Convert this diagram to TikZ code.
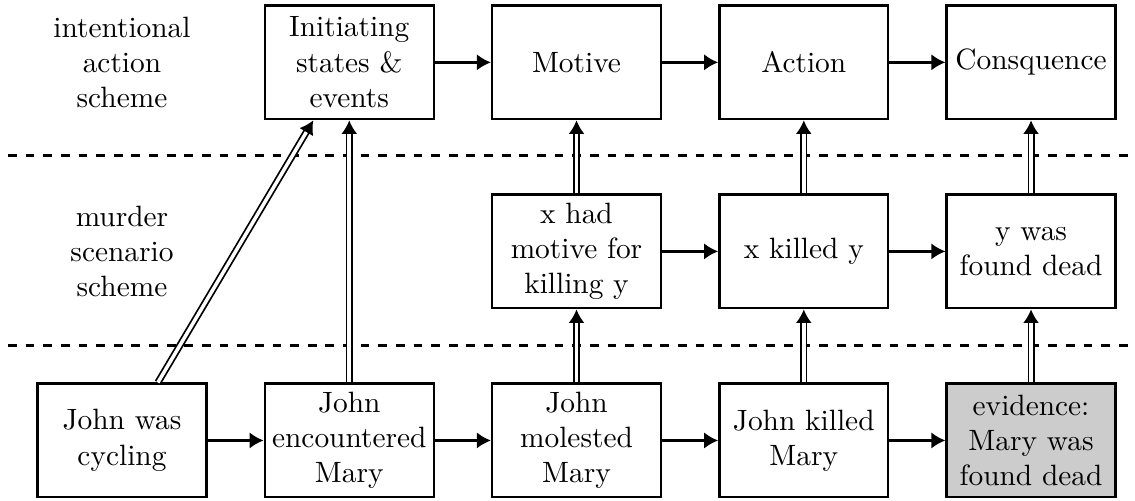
\documentclass[tikz,border=0pt]{standalone}
\usetikzlibrary{positioning, arrows.meta}

\begin{document}
\begin{tikzpicture}[
  node distance=8.73mm and 6.7mm,
  box/.style={rectangle, draw, thick, minimum width=2.02cm, minimum height=1.36cm, align=center, inner sep=2pt},
  schemetext/.style={align=center},
  seq/.style={thick, -{Latex[length=4.8pt, width=5.6pt]}},
  inst/.style={semithick, double, double distance=1.2pt, -{Latex[length=4.6pt, width=5.4pt]}},
  sep/.style={thick, dashed}
  ]
  \useasboundingbox (0,0) rectangle (13.575,-5.992);

  % bottom row: the story
  \node[box] (cycling) at (1.459,-5.268) {John was\\cycling};
  \node[box, right=of cycling] (encountered) {John\\encountered\\Mary};
  \node[box, right=of encountered] (molested) {John\\molested\\Mary};
  \node[box, right=of molested] (killed) {John killed\\Mary};
  \node[box, right=of killed, fill=black!20] (evidence) {evidence:\\Mary was\\found dead};

  % middle row: murder scenario scheme
  \node[box, above=of molested] (hadmotive) {x had\\motive for\\killing y};
  \node[box, above=of killed] (xkilled) {x killed y};
  \node[box, above=of evidence] (founddead) {y was\\found dead};

  % top row: intentional action scheme
  \node[box, above=of hadmotive] (motive) {Motive};
  \node[box, above=of xkilled] (action) {Action};
  \node[box, above=of founddead] (consq) {Consquence};
  \node[box] (initiating) at (encountered |- motive) {Initiating\\states \&\\events};

  \node[schemetext] (intentlbl) at (cycling |- motive) {intentional\\action\\scheme};
  \node[schemetext] (murderlbl) at (cycling |- hadmotive) {murder\\scenario\\scheme};

  \coordinate (upleft) at (0.096,-1.86);
  \coordinate (upright) at (13.575,-1.86);
  \coordinate (lowleft) at (0.096,-4.132);
  \coordinate (lowright) at (13.575,-4.132);
  \draw[sep] (upleft) -- (upright);
  \draw[sep] (lowleft) -- (lowright);

  \draw[seq] (initiating) -- (motive);
  \draw[seq] (motive) -- (action);
  \draw[seq] (action) -- (consq);
  \draw[seq] (hadmotive) -- (xkilled);
  \draw[seq] (xkilled) -- (founddead);
  \draw[seq] (cycling) -- (encountered);
  \draw[seq] (encountered) -- (molested);
  \draw[seq] (molested) -- (killed);
  \draw[seq] (killed) -- (evidence);

  \draw[inst] ([xshift=4.3mm]cycling.north) -- ([xshift=-4.3mm]initiating.south);
  \draw[inst] (encountered) -- (initiating);
  \draw[inst] (molested) -- (hadmotive);
  \draw[inst] (hadmotive) -- (motive);
  \draw[inst] (killed) -- (xkilled);
  \draw[inst] (xkilled) -- (action);
  \draw[inst] (evidence) -- (founddead);
  \draw[inst] (founddead) -- (consq);
\end{tikzpicture}
\end{document}
